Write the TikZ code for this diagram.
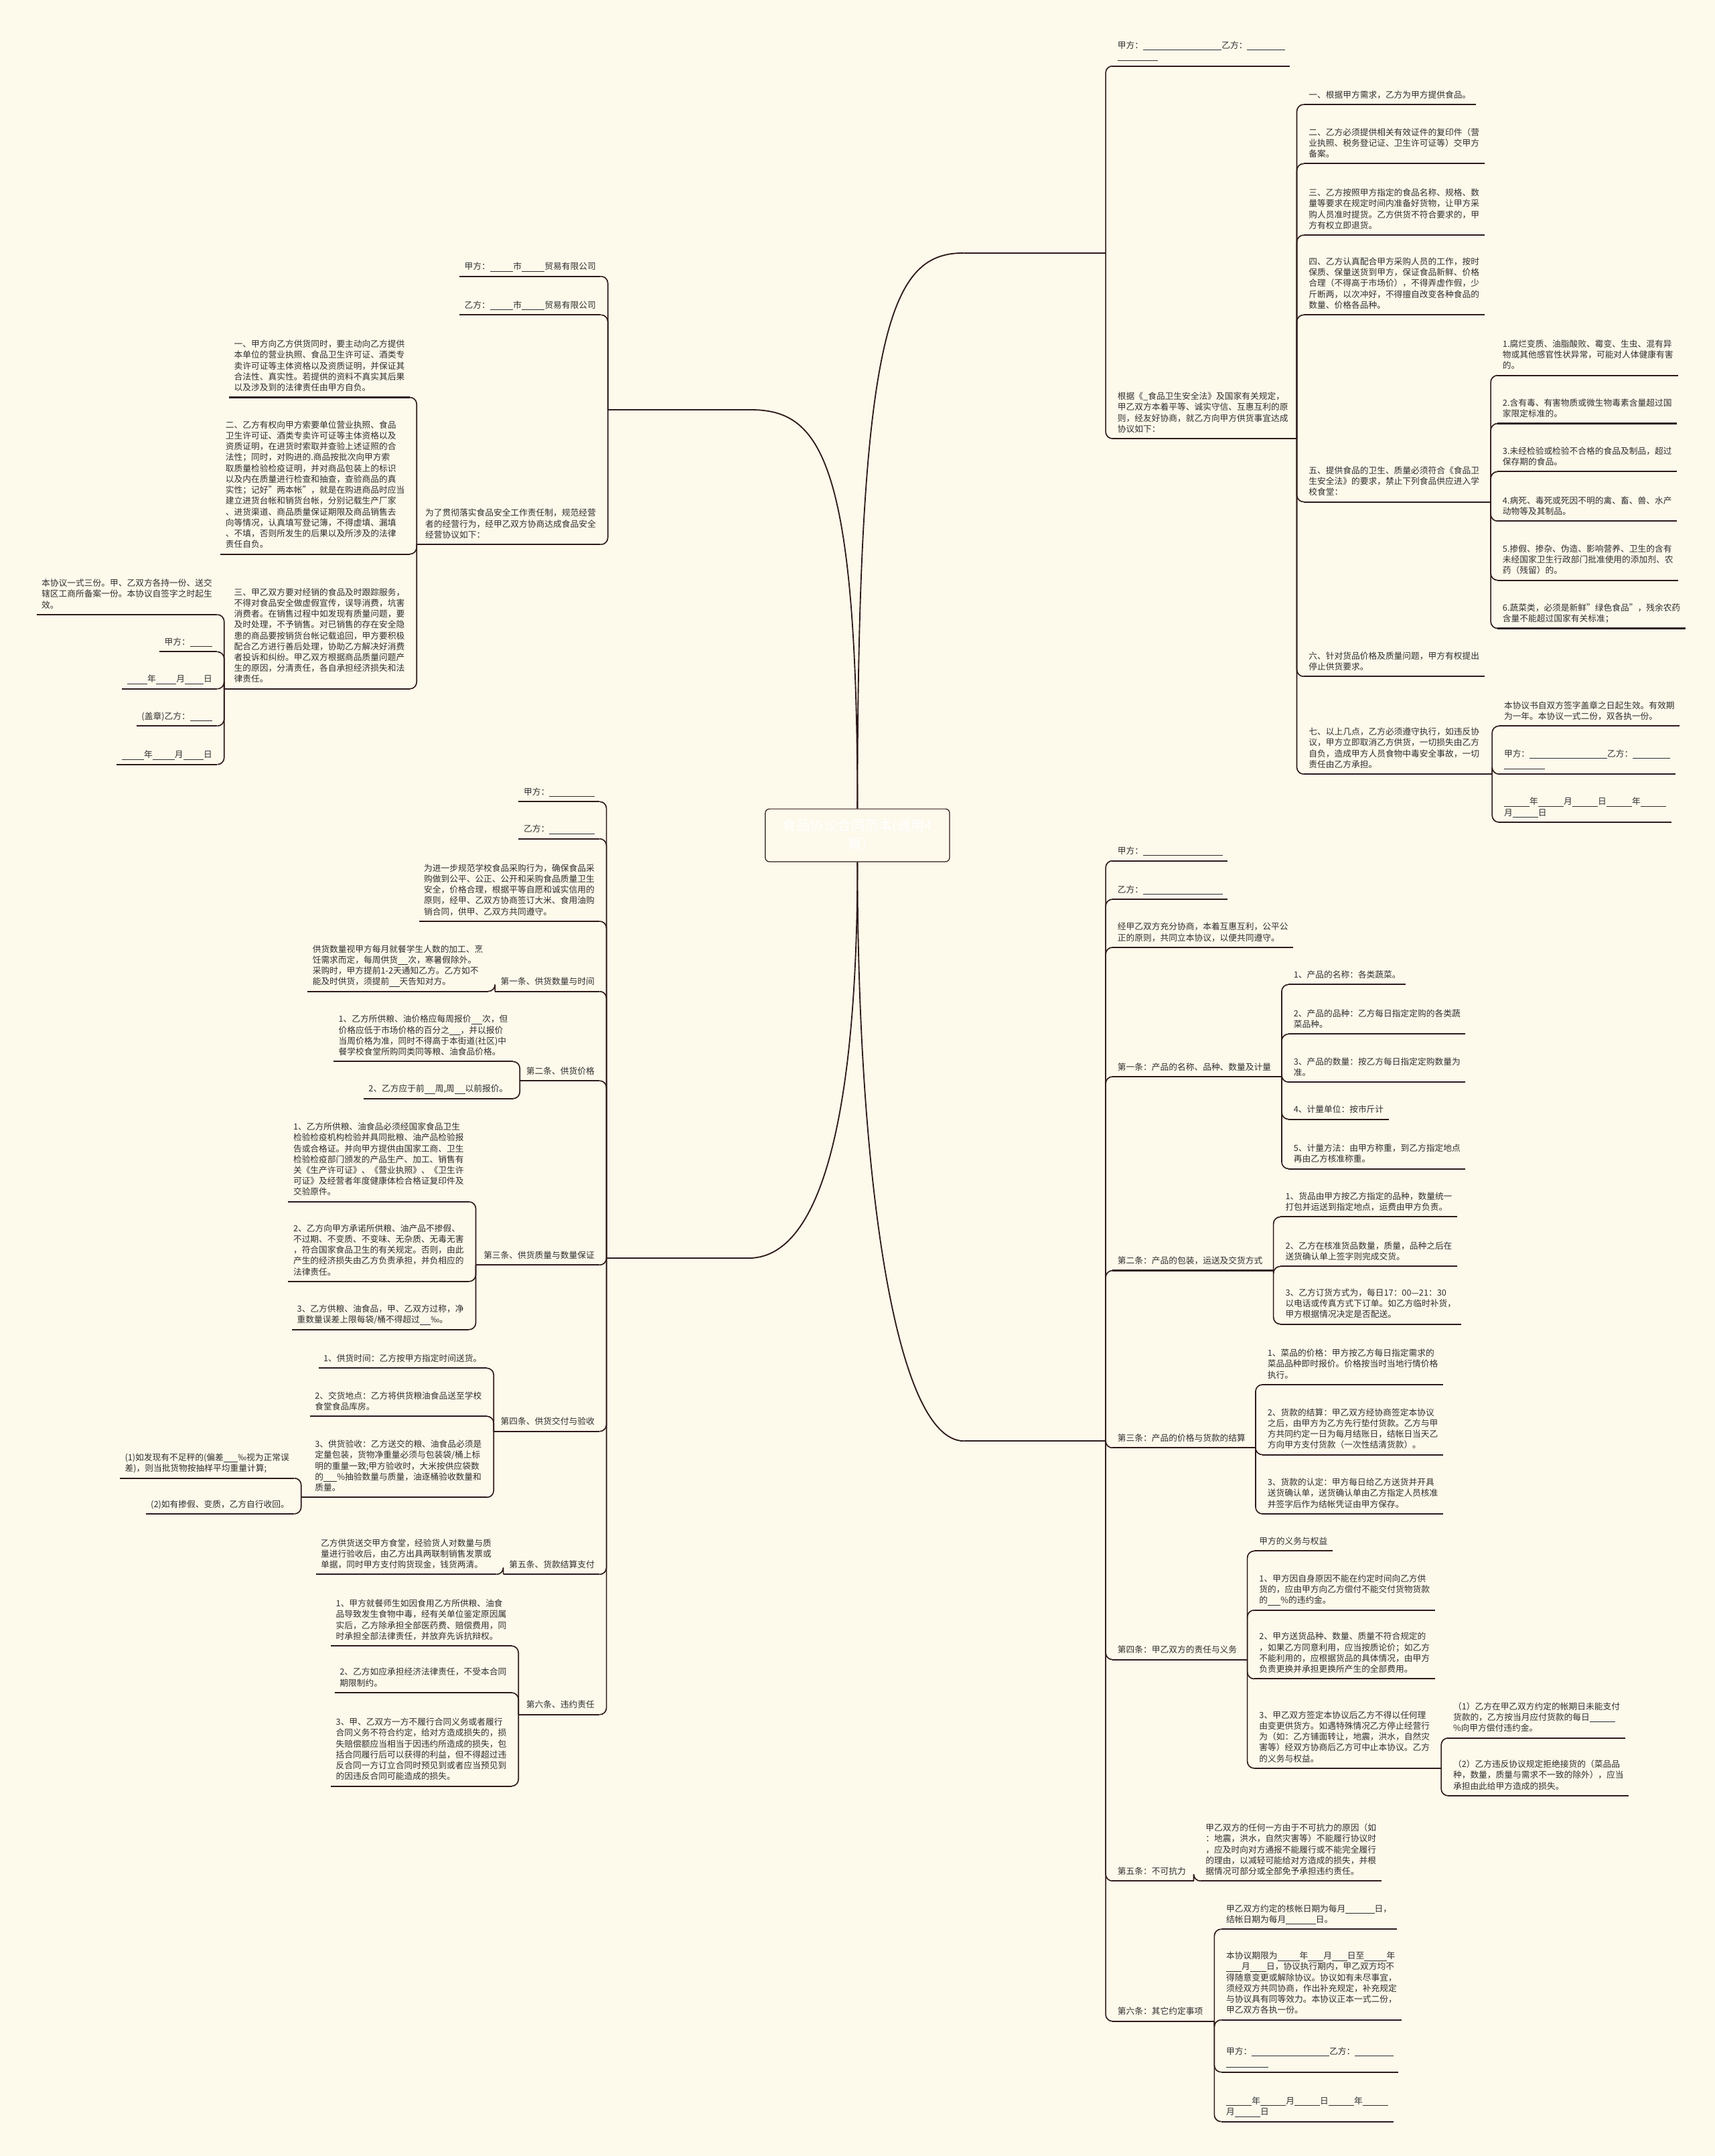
\documentclass[tikz,border=0pt]{standalone}
\usepackage{fontspec}
\setmainfont{Noto Sans CJK SC}
\usetikzlibrary{calc}
\definecolor{bgc}{HTML}{FDF9EB}
\definecolor{lnc}{HTML}{2E1A1A}
\definecolor{txc}{HTML}{2F2F2F}
\newcommand\bl[1]{\rule[-1.2pt]{#1}{0.35pt}}
\tikzset{
 tx/.style={inner xsep=3.5pt, inner ysep=3pt, text depth=1.6pt, align=left, font={\fontsize{6.2}{7.9}\selectfont}, text=txc},
 fl/.style={inner sep=0pt, minimum height=10pt, minimum width=103pt},
 ul/.style={draw=lnc, line width=1pt},
 cn/.style={draw=lnc, line width=0.8pt, rounded corners=5pt},
 cn0/.style={draw=lnc, line width=0.9pt},
 rootbox/.style={draw=lnc, line width=0.6pt, rounded corners=3pt, fill=bgc, minimum width=134pt, minimum height=38.4pt, text=white, align=center, font={\fontsize{10}{13}\selectfont}},
}
% right-side node: name, parent bracket x, line y, text
\newcommand\mRN[4]{\node[tx,anchor=south west] (#1) at (#2+5,#3) {#4};\draw[ul] (#1.south west) -- (#1.south east);}
% left-side node
\newcommand\mLN[4]{\node[tx,anchor=south east] (#1) at (#2-5,#3) {#4};\draw[ul] (#1.south west) -- (#1.south east);}
% brackets of parents
\newcommand\mRB[3]{\coordinate (#1-b) at (#2,#3);\draw[ul] (#1.south east) -- (#1-b);}
\newcommand\mLB[3]{\coordinate (#1-b) at (#2,#3);\draw[ul] (#1.south west) -- (#1-b);}
% connectors
\newcommand\mRC[2]{\draw[cn] (#1-b) |- (#2.south west);}
\newcommand\mLC[2]{\draw[cn] (#1-b) |- (#2.south east);}
\begin{document}
\begin{tikzpicture}[x=1pt,y=-1pt]
\useasboundingbox (0,0) rectangle (1247,1568);
\fill[bgc] (0,0) rectangle (1247,1568);

% ---------------- root ----------------
\node[rootbox] (R) at (623.5,607.5) {食品协议合同范本(通用4\\篇)};

% first-level nodes
\node[fl,anchor=south west] (A) at (442,298) {};
\draw[ul] (A.south west) -- (A.south east);
\coordinate (A-b) at (442,298);
\node[fl,anchor=south west] (B) at (701,184) {};
\draw[ul] (B.south west) -- (B.south east);
\coordinate (B-b) at (804,184);
\node[fl,anchor=south west] (C) at (441,915) {};
\draw[ul] (C.south west) -- (C.south east);
\coordinate (C-b) at (441,915);
\node[fl,anchor=south west] (D) at (701,1048) {};
\draw[ul] (D.south west) -- (D.south east);
\coordinate (D-b) at (804,1048);

\draw[cn0] (R.north) .. controls (623.5,330) and (595,298) .. (A.south east);
\draw[cn0] (R.north) .. controls (623.5,230) and (650,184) .. (B.south west);
\draw[cn0] (R.south) .. controls (623.5,800) and (600,915) .. (C.south east);
\draw[cn0] (R.south) .. controls (623.5,850) and (650,1048) .. (D.south west);

% ---------------- branch A ----------------
\mLN{A1}{442}{201}{甲方：\bl{2.7em}市\bl{2.7em}贸易有限公司}
\mLN{A2}{442}{229}{乙方：\bl{2.7em}市\bl{2.7em}贸易有限公司}
\mLN{A3}{442}{396}{为了贯彻落实食品安全工作责任制，规范经营\\者的经营行为，经甲乙双方协商达成食品安全\\经营协议如下：}
\mLB{A3}{303}{396}
\mLC{A}{A1}\mLC{A}{A2}\mLC{A}{A3}
\mLN{A3a}{303}{289}{一、甲方向乙方供货同时，要主动向乙方提供\\本单位的营业执照、食品卫生许可证、酒类专\\卖许可证等主体资格以及资质证明，并保证其\\合法性、真实性。若提供的资料不真实其后果\\以及涉及到的法律责任由甲方自负。}
\mLN{A3b}{303}{403}{二、乙方有权向甲方索要单位营业执照、食品\\卫生许可证、酒类专卖许可证等主体资格以及\\资质证明，在进货时索取并查验上述证照的合\\法性；同时，对购进的.商品按批次向甲方索\\取质量检验检疫证明，并对商品包装上的标识\\以及内在质量进行检查和抽查，查验商品的真\\实性；记好"两本帐"，就是在购进商品时应当\\建立进货台帐和销货台帐，分别记载生产厂家\\、进货渠道、商品质量保证期限及商品销售去\\向等情况，认真填写登记簿，不得虚填、漏填\\、不填，否则所发生的后果以及所涉及的法律\\责任自负。}
\mLN{A3c}{303}{501}{三、甲乙双方要对经销的食品及时跟踪服务，\\不得对食品安全做虚假宣传，误导消费，坑害\\消费者。在销售过程中如发现有质量问题，要\\及时处理，不予销售。对已销售的存在安全隐\\患的商品要按销货台帐记载追回，甲方要积极\\配合乙方进行善后处理，协助乙方解决好消费\\者投诉和纠纷。甲乙双方根据商品质量问题产\\生的原因，分清责任，各自承担经济损失和法\\律责任。}
\mLB{A3c}{163}{501}
\mLC{A3}{A3a}\mLC{A3}{A3b}\mLC{A3}{A3c}
\mLN{A3c1}{163}{447}{本协议一式三份。甲、乙双方各持一份、送交\\辖区工商所备案一份。本协议自签字之时起生\\效。}
\mLN{A3c2}{163}{474}{甲方：\bl{2.6em}}
\mLN{A3c3}{163}{501}{\bl{2.4em}年\bl{2.4em}月\bl{2.2em}日}
\mLN{A3c4}{163}{528}{(盖章)乙方：\bl{2.6em}}
\mLN{A3c5}{163}{556}{\bl{2.6em}年\bl{2.6em}月\bl{2.4em}日}
\mLC{A3c}{A3c1}\mLC{A3c}{A3c2}\mLC{A3c}{A3c3}\mLC{A3c}{A3c4}\mLC{A3c}{A3c5}

% ---------------- branch B ----------------
\mRN{B1}{804}{48}{甲方：\bl{9.2em}乙方：\bl{4.4em}\\\bl{4.7em}}
\mRN{B2}{804}{319}{根据《\_食品卫生安全法》及国家有关规定，\\甲乙双方本着平等、诚实守信、互惠互利的原\\则，经友好协商，就乙方向甲方供货事宜达成\\协议如下：}
\mRB{B2}{943}{319}
\mRC{B}{B1}\mRC{B}{B2}
\mRN{B2a}{943}{76}{一、根据甲方需求，乙方为甲方提供食品。}
\mRN{B2b}{943}{119}{二、乙方必须提供相关有效证件的复印件（营\\业执照、税务登记证、卫生许可证等）交甲方\\备案。}
\mRN{B2c}{943}{171}{三、乙方按照甲方指定的食品名称、规格、数\\量等要求在规定时间内准备好货物，让甲方采\\购人员准时提货。乙方供货不符合要求的，甲\\方有权立即退货。}
\mRN{B2d}{943}{229}{四、乙方认真配合甲方采购人员的工作，按时\\保质、保量送货到甲方，保证食品新鲜、价格\\合理（不得高于市场价），不得弄虚作假，少\\斤断两，以次冲好，不得擅自改变各种食品的\\数量、价格各品种。}
\mRN{B2e}{943}{365}{五、提供食品的卫生、质量必须符合《食品卫\\生安全法》的要求，禁止下列食品供应进入学\\校食堂：}
\mRB{B2e}{1084}{365}
\mRN{B2f}{943}{492}{六、针对货品价格及质量问题，甲方有权提出\\停止供货要求。}
\mRN{B2g}{943}{563}{七、以上几点，乙方必须遵守执行，如违反协\\议，甲方立即取消乙方供货，一切损失由乙方\\自负，造成甲方人员食物中毒安全事故，一切\\责任由乙方承担。}
\mRB{B2g}{1085}{563}
\mRC{B2}{B2a}\mRC{B2}{B2b}\mRC{B2}{B2c}\mRC{B2}{B2d}\mRC{B2}{B2e}\mRC{B2}{B2f}\mRC{B2}{B2g}
\mRN{B2e1}{1084}{273}{1.腐烂变质、油脂酸败、霉变、生虫、混有异\\物或其他感官性状异常，可能对人体健康有害\\的。}
\mRN{B2e2}{1084}{308}{2.含有毒、有害物质或微生物毒素含量超过国\\家限定标准的。}
\mRN{B2e3}{1084}{343}{3.未经检验或检验不合格的食品及制品，超过\\保存期的食品。}
\mRN{B2e4}{1084}{379}{4.病死、毒死或死因不明的禽、畜、兽、水产\\动物等及其制品。}
\mRN{B2e5}{1084}{422}{5.掺假、掺杂、伪造、影响营养、卫生的含有\\未经国家卫生行政部门批准使用的添加剂、农\\药（残留）的。}
\mRN{B2e6}{1084}{457}{6.蔬菜类，必须是新鲜"绿色食品"，残余农药\\含量不能超过国家有关标准；}
\mRC{B2e}{B2e1}\mRC{B2e}{B2e2}\mRC{B2e}{B2e3}\mRC{B2e}{B2e4}\mRC{B2e}{B2e5}\mRC{B2e}{B2e6}
\mRN{B2g1}{1085}{528}{本协议书自双方签字盖章之日起生效。有效期\\为一年。本协议一式二份，双各执一份。}
\mRN{B2g2}{1085}{563}{甲方：\bl{9.1em}乙方：\bl{4.4em}\\\bl{4.8em}}
\mRN{B2g3}{1085}{598}{\bl{3em}年\bl{3em}月\bl{3em}日\bl{3em}年\bl{3em}\\月\bl{3em}日}
\mRC{B2g}{B2g1}\mRC{B2g}{B2g2}\mRC{B2g}{B2g3}

% ---------------- branch C ----------------
\mLN{C1}{441}{583}{甲方：\bl{5.3em}}
\mLN{C2}{441}{610}{乙方：\bl{5.3em}}
\mLN{C3}{441}{670}{为进一步规范学校食品采购行为，确保食品采\\购做到公平、公正、公开和采购食品质量卫生\\安全，价格合理，根据平等自愿和诚实信用的\\原则，经甲、乙双方协商签订大米、食用油购\\销合同，供甲、乙双方共同遵守。}
\mLN{C4}{441}{721}{第一条、供货数量与时间}
\mLB{C4}{360}{721}
\mLN{C5}{441}{786}{第二条、供货价格}
\mLB{C5}{378}{786}
\mLN{C6}{441}{920}{第三条、供货质量与数量保证}
\mLB{C6}{346}{920}
\mLN{C7}{441}{1041}{第四条、供货交付与验收}
\mLB{C7}{359}{1041}
\mLN{C8}{441}{1145}{第五条、货款结算支付}
\mLB{C8}{366}{1145}
\mLN{C9}{441}{1247}{第六条、违约责任}
\mLB{C9}{377}{1247}
\mLC{C}{C1}\mLC{C}{C2}\mLC{C}{C3}\mLC{C}{C4}\mLC{C}{C5}\mLC{C}{C6}\mLC{C}{C7}\mLC{C}{C8}\mLC{C}{C9}
\mLN{C4a}{360}{721}{供货数量视甲方每月就餐学生人数的加工、烹\\饪需求而定，每周供货\bl{1.2em}次，寒暑假除外。\\采购时，甲方提前1-2天通知乙方。乙方如不\\能及时供货，须提前\bl{1.2em}天告知对方。}
\mLC{C4}{C4a}
\mLN{C5a}{378}{772}{1、乙方所供粮、油价格应每周报价\bl{1.3em}次，但\\价格应低于市场价格的百分之\bl{1.3em}，并以报价\\当周价格为准，同时不得高于本街道(社区)中\\餐学校食堂所购同类同等粮、油食品价格。}
\mLN{C5b}{378}{799}{2、乙方应于前\bl{1.25em}周,周\bl{1.25em}以前报价。}
\mLC{C5}{C5a}\mLC{C5}{C5b}
\mLN{C6a}{346}{874}{1、乙方所供粮、油食品必须经国家食品卫生\\检验检疫机构检验并具同批粮、油产品检验报\\告或合格证。并向甲方提供由国家工商、卫生\\检验检疫部门颁发的产品生产、加工、销售有\\关《生产许可证》、《营业执照》、《卫生许\\可证》及经营者年度健康体检合格证复印件及\\交验原件。}
\mLN{C6b}{346}{932}{2、乙方向甲方承诺所供粮、油产品不掺假、\\不过期、不变质、不变味、无杂质、无毒无害\\，符合国家食品卫生的有关规定。否则，由此\\产生的经济损失由乙方负责承担，并负相应的\\法律责任。}
\mLN{C6c}{346}{967}{3、乙方供粮、油食品，甲、乙双方过称，净\\重数量误差上限每袋/桶不得超过\bl{1.3em}‰。}
\mLC{C6}{C6a}\mLC{C6}{C6b}\mLC{C6}{C6c}
\mLN{C7a}{359}{995}{1、供货时间：乙方按甲方指定时间送货。}
\mLN{C7b}{359}{1030}{2、交货地点：乙方将供货粮油食品送至学校\\食堂食品库房。}
\mLN{C7c}{359}{1089}{3、供货验收：乙方送交的粮、油食品必须是\\定量包装，货物净重量必须与包装袋/桶上标\\明的重量一致;甲方验收时，大米按供应袋数\\的\bl{1.6em}\%抽验数量与质量，油逐桶验收数量和\\质量。}
\mLB{C7c}{219}{1089}
\mLC{C7}{C7a}\mLC{C7}{C7b}\mLC{C7}{C7c}
\mLN{C7c1}{219}{1075}{(1)如发现有不足秤的(偏差\bl{1.7em}‰视为正常误\\差)，则当批货物按抽样平均重量计算;}
\mLN{C7c2}{219}{1101}{(2)如有掺假、变质，乙方自行收回。}
\mLC{C7c}{C7c1}\mLC{C7c}{C7c2}
\mLN{C8a}{366}{1145}{乙方供货送交甲方食堂，经验货人对数量与质\\量进行验收后，由乙方出具两联制销售发票或\\单据，同时甲方支付购货现金，钱货两清。}
\mLC{C8}{C8a}
\mLN{C9a}{377}{1197}{1、甲方就餐师生如因食用乙方所供粮、油食\\品导致发生食物中毒，经有关单位鉴定原因属\\实后，乙方除承担全部医药费、赔偿费用，同\\时承担全部法律责任，并放弃先诉抗辩权。}
\mLN{C9b}{377}{1231}{2、乙方如应承担经济法律责任，不受本合同\\期限制约。}
\mLN{C9c}{377}{1299}{3、甲、乙双方一方不履行合同义务或者履行\\合同义务不符合约定，给对方造成损失的，损\\失赔偿额应当相当于因违约所造成的损失，包\\括合同履行后可以获得的利益，但不得超过违\\反合同一方订立合同时预见到或者应当预见到\\的因违反合同可能造成的损失。}
\mLC{C9}{C9a}\mLC{C9}{C9b}\mLC{C9}{C9c}

% ---------------- branch D ----------------
\mRN{D1}{804}{626}{甲方：\bl{9.3em}}
\mRN{D2}{804}{654}{乙方：\bl{9.3em}}
\mRN{D3}{804}{689}{经甲乙双方充分协商，本着互惠互利，公平公\\正的原则，共同立本协议，以便共同遵守。}
\mRN{D4}{804}{783}{第一条：产品的名称、品种、数量及计量}
\mRB{D4}{932}{783}
\mRN{D5}{804}{924}{第二条：产品的包装，运送及交货方式}
\mRB{D5}{926}{924}
\mRN{D6}{804}{1053}{第三条：产品的价格与货款的结算}
\mRB{D6}{913}{1053}
\mRN{D7}{804}{1207}{第四条：甲乙双方的责任与义务}
\mRB{D7}{907}{1207}
\mRN{D8}{804}{1368}{第五条：不可抗力}
\mRB{D8}{868}{1368}
\mRN{D9}{804}{1470}{第六条：其它约定事项}
\mRB{D9}{883}{1470}
\mRC{D}{D1}\mRC{D}{D2}\mRC{D}{D3}\mRC{D}{D4}\mRC{D}{D5}\mRC{D}{D6}\mRC{D}{D7}\mRC{D}{D8}\mRC{D}{D9}
\mRN{D4a}{932}{716}{1、产品的名称：各类蔬菜。}
\mRN{D4b}{932}{752}{2、产品的品种：乙方每日指定定购的各类蔬\\菜品种。}
\mRN{D4c}{932}{787}{3、产品的数量：按乙方每日指定定购数量为\\准。}
\mRN{D4d}{932}{814}{4、计量单位：按市斤计}
\mRN{D4e}{932}{850}{5、计量方法：由甲方称重，到乙方指定地点\\再由乙方核准称重。}
\mRC{D4}{D4a}\mRC{D4}{D4b}\mRC{D4}{D4c}\mRC{D4}{D4d}\mRC{D4}{D4e}
\mRN{D5a}{926}{885}{1、货品由甲方按乙方指定的品种，数量统一\\打包并运送到指定地点，运费由甲方负责。}
\mRN{D5b}{926}{921}{2、乙方在核准货品数量，质量，品种之后在\\送货确认单上签字则完成交货。}
\mRN{D5c}{926}{963}{3、乙方订货方式为，每日17：00—21：30\\以电话或传真方式下订单。如乙方临时补货，\\甲方根据情况决定是否配送。}
\mRC{D5}{D5a}\mRC{D5}{D5b}\mRC{D5}{D5c}
\mRN{D6a}{913}{1007}{1、菜品的价格：甲方按乙方每日指定需求的\\菜品品种即时报价。价格按当时当地行情价格\\执行。}
\mRN{D6b}{913}{1058}{2、货款的结算：甲乙双方经协商签定本协议\\之后，由甲方为乙方先行垫付货款。乙方与甲\\方共同约定一日为每月结账日，结帐日当天乙\\方向甲方支付货款（一次性结清货款）。}
\mRN{D6c}{913}{1101}{3、货款的认定：甲方每日给乙方送货并开具\\送货确认单，送货确认单由乙方指定人员核准\\并签字后作为结帐凭证由甲方保存。}
\mRC{D6}{D6a}\mRC{D6}{D6b}\mRC{D6}{D6c}
\mRN{D7a}{907}{1128}{甲方的义务与权益}
\mRN{D7b}{907}{1171}{1、甲方因自身原因不能在约定时间向乙方供\\货的，应由甲方向乙方偿付不能交付货物货款\\的\bl{1.5em}\%的违约金。}
\mRN{D7c}{907}{1221}{2、甲方送货品种、数量、质量不符合规定的\\，如果乙方同意利用，应当按质论价；如乙方\\不能利用的，应根据货品的具体情况，由甲方\\负责更换并承担更换所产生的全部费用。}
\mRN{D7d}{907}{1286}{3、甲乙双方签定本协议后乙方不得以任何理\\由变更供货方。如遇特殊情况乙方停止经营行\\为（如：乙方铺面转让，地震，洪水，自然灾\\害等）经双方协商后乙方可中止本协议。乙方\\的义务与权益。}
\mRB{D7d}{1048}{1286}
\mRC{D7}{D7a}\mRC{D7}{D7b}\mRC{D7}{D7c}\mRC{D7}{D7d}
\mRN{D7d1}{1048}{1264}{（1）乙方在甲乙双方约定的帐期日未能支付\\货款的，乙方按当月应付货款的每日\bl{3em}\\\%向甲方偿付违约金。}
\mRN{D7d2}{1048}{1306}{（2）乙方违反协议规定拒绝接货的（菜品品\\种，数量，质量与需求不一致的除外），应当\\承担由此给甲方造成的损失。}
\mRC{D7d}{D7d1}\mRC{D7d}{D7d2}
\mRN{D8a}{868}{1368}{甲乙双方的任何一方由于不可抗力的原因（如\\：地震，洪水，自然灾害等）不能履行协议时\\，应及时向对方通报不能履行或不能完全履行\\的理由，以减轻可能给对方造成的损失，并根\\据情况可部分或全部免予承担违约责任。}
\mRC{D8}{D8a}
\mRN{D9a}{883}{1403}{甲乙双方约定的核帐日期为每月\bl{3.4em}日，\\结帐日期为每月\bl{3.5em}日。}
\mRN{D9b}{883}{1469}{本协议期限为\bl{2.6em}年\bl{1.8em}月\bl{1.8em}日至\bl{2.6em}年\\\bl{1.8em}月\bl{1.9em}日，协议执行期内，甲乙双方均不\\得随意变更或解除协议。协议如有未尽事宜，\\须经双方共同协商，作出补充规定，补充规定\\与协议具有同等效力。本协议正本一式二份，\\甲乙双方各执一份。}
\mRN{D9c}{883}{1507}{甲方：\bl{9.1em}乙方：\bl{4.5em}\\\bl{4.9em}}
\mRN{D9d}{883}{1543}{\bl{3em}年\bl{3em}月\bl{3em}日\bl{3em}年\bl{3em}\\月\bl{3em}日}
\mRC{D9}{D9a}\mRC{D9}{D9b}\mRC{D9}{D9c}\mRC{D9}{D9d}
\end{tikzpicture}
\end{document}
